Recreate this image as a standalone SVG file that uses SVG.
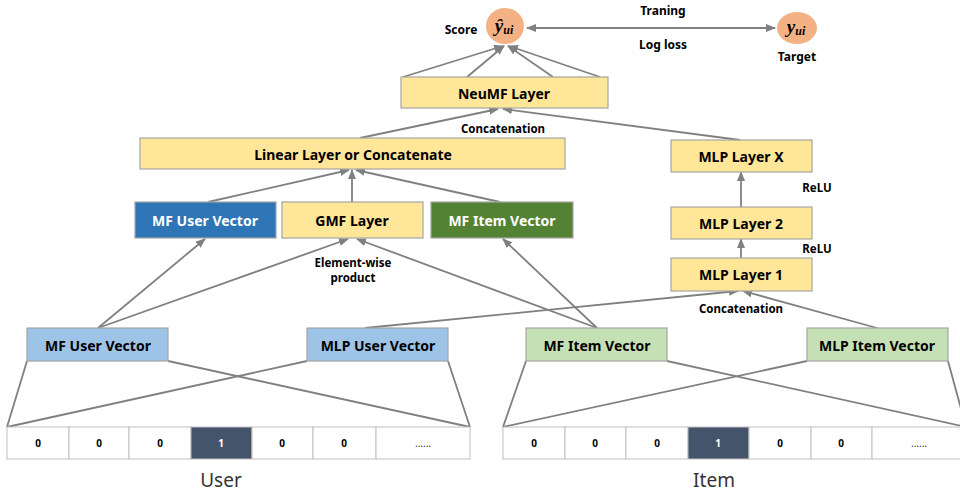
<svg xmlns="http://www.w3.org/2000/svg" width="960" height="494" viewBox="0 0 960 494">
<style>
.box{stroke:#A6A6A6;stroke-width:1.2}
.y{fill:#FFE699}
.lb{fill:#9DC3E6}
.lg{fill:#C5E0B4}
.t{font-family:"Noto Sans","Noto Sans CJK KR",sans-serif;font-weight:bold;font-size:14px;fill:#000;text-anchor:middle;dominant-baseline:central}
.tw{fill:#fff}
.s{font-family:"Noto Sans","Noto Sans CJK KR",sans-serif;font-weight:bold;font-size:12px;fill:#000;text-anchor:middle;dominant-baseline:central}
.l{font-family:"Noto Sans",sans-serif;font-weight:bold;font-size:11.5px;fill:#000;text-anchor:middle;dominant-baseline:central}
.c{font-family:"Noto Sans",sans-serif;font-weight:bold;font-size:10px;fill:#000;text-anchor:middle;dominant-baseline:central}
.big{font-family:"Noto Sans","Noto Sans CJK KR",sans-serif;font-size:19px;fill:#333;text-anchor:middle}
.m{font-family:"Liberation Serif",serif;font-style:italic;font-weight:bold;font-size:19px;fill:#000;text-anchor:middle}
.cell{fill:#fff;stroke:#BFBFBF;stroke-width:1}
.ln{stroke:#808080;stroke-width:1.8;fill:none}
.ar{stroke:#808080;stroke-width:1.8;fill:none;marker-end:url(#ah)}
</style>
<defs>
<marker id="ah" markerUnits="userSpaceOnUse" markerWidth="10" markerHeight="8" refX="9" refY="4" orient="auto">
<path d="M0,0 L10,4 L0,8 z" fill="#808080"/>
</marker>
<marker id="ahs" markerUnits="userSpaceOnUse" markerWidth="10" markerHeight="8" refX="1" refY="4" orient="auto">
<path d="M10,0 L0,4 L10,8 z" fill="#808080"/>
</marker>
</defs>

<g id="connectors">
<line class="ln" x1="527" y1="28" x2="775" y2="28" marker-start="url(#ahs)" marker-end="url(#ah)"/>
<line class="ar" x1="403" y1="77" x2="503" y2="46"/>
<line class="ar" x1="467" y1="77" x2="504" y2="46"/>
<line class="ar" x1="553" y1="77" x2="508" y2="46"/>
<line class="ar" x1="600" y1="77" x2="509" y2="46"/>
<line class="ar" x1="360" y1="138" x2="498" y2="109"/>
<line class="ar" x1="740" y1="140" x2="503" y2="109"/>
<line class="ar" x1="208" y1="202" x2="349" y2="170"/>
<line class="ar" x1="352" y1="202" x2="352" y2="170"/>
<line class="ar" x1="500" y1="202" x2="356" y2="170"/>
<line class="ar" x1="741" y1="207" x2="741" y2="172"/>
<line class="ar" x1="741" y1="258" x2="741" y2="239"/>
<line class="ar" x1="98" y1="328" x2="205" y2="239"/>
<line class="ar" x1="98" y1="328" x2="348" y2="239"/>
<line class="ar" x1="597" y1="328" x2="357" y2="239"/>
<line class="ar" x1="597" y1="328" x2="503" y2="239"/>
<line class="ar" x1="365" y1="328" x2="738" y2="291"/>
<line class="ar" x1="877" y1="328" x2="743" y2="291"/>
<line class="ln" x1="27" y1="361" x2="7" y2="427"/>
<line class="ln" x1="168" y1="361" x2="470" y2="427"/>
<line class="ln" x1="307" y1="361" x2="7" y2="427"/>
<line class="ln" x1="448" y1="361" x2="470" y2="427"/>
<line class="ln" x1="526" y1="361" x2="503" y2="427"/>
<line class="ln" x1="667" y1="361" x2="962" y2="426"/>
<line class="ln" x1="807" y1="361" x2="503" y2="427"/>
<line class="ln" x1="948" y1="361" x2="966" y2="427"/>
</g>

<g id="score">
<ellipse cx="505" cy="26" rx="19" ry="18" fill="#F4B183"/>
<text class="m" x="504" y="32">ŷ<tspan font-size="12" dy="2">ui</tspan></text>
<text class="s" x="461" y="29">Score</text>
</g>
<g id="target">
<ellipse cx="797" cy="28" rx="20" ry="16" fill="#F4B183"/>
<text class="m" x="796" y="33">y<tspan font-size="12" dy="2">ui</tspan></text>
<text class="s" x="797" y="56">Target</text>
</g>
<g id="loss-labels">
<text class="s" x="663" y="10">Traning</text>
<text class="s" x="663" y="44">Log loss</text>
</g>

<g id="neumf">
<rect class="box y" x="401" y="77" width="207" height="31"/>
<text class="t" x="504" y="93">NeuMF Layer</text>
</g>
<text class="l" x="503" y="128">Concatenation</text>

<g id="linear">
<rect class="box y" x="140" y="138" width="425" height="31"/>
<text class="t" x="353" y="154">Linear Layer or Concatenate</text>
</g>

<g id="mf-user-vec">
<rect x="135" y="202" width="141" height="36" fill="#2E75B6" stroke="#A6A6A6" stroke-width="1.2"/>
<text class="t tw" x="205" y="220">MF User Vector</text>
</g>
<g id="gmf">
<rect class="box y" x="282" y="202" width="141" height="36"/>
<text class="t" x="352" y="220">GMF Layer</text>
</g>
<g id="mf-item-vec">
<rect x="431" y="202" width="142" height="36" fill="#548235" stroke="#A6A6A6" stroke-width="1.2"/>
<text class="t tw" x="502" y="220">MF Item Vector</text>
</g>
<g id="ewp">
<text class="l" x="353" y="262">Element-wise</text>
<text class="l" x="353" y="277">product</text>
</g>

<g id="mlp-x">
<rect class="box y" x="671" y="140" width="141" height="32"/>
<text class="t" x="741" y="156">MLP Layer X</text>
</g>
<text class="l" x="817" y="187">ReLU</text>
<g id="mlp-2">
<rect class="box y" x="671" y="207" width="141" height="32"/>
<text class="t" x="741" y="223">MLP Layer 2</text>
</g>
<text class="l" x="817" y="248">ReLU</text>
<g id="mlp-1">
<rect class="box y" x="671" y="258" width="141" height="33"/>
<text class="t" x="741" y="274">MLP Layer 1</text>
</g>
<text class="l" x="741" y="308">Concatenation</text>

<g id="mf-user">
<rect class="box lb" x="27" y="328" width="141" height="33"/>
<text class="t" x="98" y="345">MF User Vector</text>
</g>
<g id="mlp-user">
<rect class="box lb" x="307" y="328" width="141" height="33"/>
<text class="t" x="378" y="345">MLP User Vector</text>
</g>
<g id="mf-item">
<rect class="box lg" x="526" y="328" width="141" height="33"/>
<text class="t" x="597" y="345">MF Item Vector</text>
</g>
<g id="mlp-item">
<rect class="box lg" x="807" y="328" width="141" height="33"/>
<text class="t" x="877" y="345">MLP Item Vector</text>
</g>

<g id="user-onehot">
<rect class="cell" x="7" y="427" width="62" height="32"/>
<rect class="cell" x="69" y="427" width="60" height="32"/>
<rect class="cell" x="129" y="427" width="62" height="32"/>
<rect x="191" y="427" width="61" height="32" fill="#44546A" stroke="#BFBFBF"/>
<rect class="cell" x="252" y="427" width="61" height="32"/>
<rect class="cell" x="313" y="427" width="63" height="32"/>
<rect class="cell" x="376" y="427" width="94" height="32"/>
<text class="c" x="38" y="443">0</text>
<text class="c" x="99" y="443">0</text>
<text class="c" x="160" y="443">0</text>
<text class="c" x="221" y="443" style="fill:#fff">1</text>
<text class="c" x="282" y="443">0</text>
<text class="c" x="344" y="443">0</text>
<text class="c" x="423" y="443" style="font-weight:normal;fill:#333">......</text>
<text class="big" x="221" y="487">User</text>
</g>

<g id="item-onehot">
<rect class="cell" x="503" y="427" width="62" height="32"/>
<rect class="cell" x="565" y="427" width="61" height="32"/>
<rect class="cell" x="626" y="427" width="62" height="32"/>
<rect x="688" y="427" width="61" height="32" fill="#44546A" stroke="#BFBFBF"/>
<rect class="cell" x="749" y="427" width="62" height="32"/>
<rect class="cell" x="811" y="427" width="61" height="32"/>
<rect class="cell" x="872" y="427" width="94" height="32"/>
<text class="c" x="534" y="443">0</text>
<text class="c" x="595" y="443">0</text>
<text class="c" x="657" y="443">0</text>
<text class="c" x="718" y="443" style="fill:#fff">1</text>
<text class="c" x="780" y="443">0</text>
<text class="c" x="841" y="443">0</text>
<text class="c" x="919" y="443" style="font-weight:normal;fill:#333">......</text>
<text class="big" x="714" y="487">Item</text>
</g>
</svg>
